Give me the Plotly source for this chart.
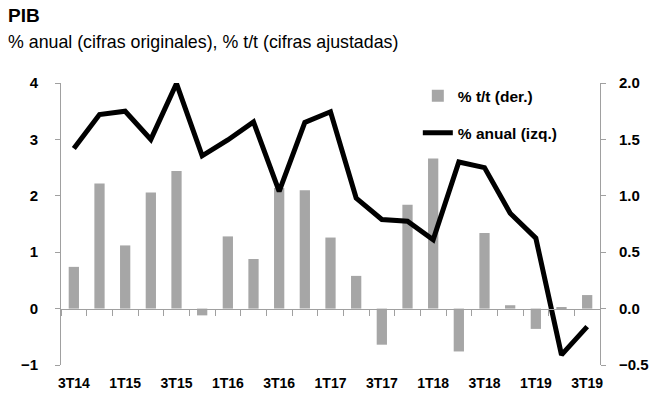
import plotly.graph_objects as go

# trimestres 3T14 .. 3T19
trimestres = ['3T14', '4T14', '1T15', '2T15', '3T15', '4T15', '1T16', '2T16',
              '3T16', '4T16', '1T17', '2T17', '3T17', '4T17', '1T18', '2T18',
              '3T18', '4T18', '1T19', '2T19', '3T19']
etiquetas = trimestres[::2]

# % t/t (cifras ajustadas), eje derecho
tt = [0.37, 1.11, 0.56, 1.03, 1.22, -0.06, 0.64, 0.44, 1.07, 1.05, 0.63,
      0.29, -0.32, 0.92, 1.33, -0.38, 0.67, 0.03, -0.18, 0.01, 0.12]
# % anual (cifras originales), eje izquierdo
anual = [2.84, 3.44, 3.50, 3.00, 3.99, 2.71, 2.99, 3.31, 2.08, 3.30, 3.49,
         1.96, 1.58, 1.55, 1.22, 2.60, 2.50, 1.69, 1.25, -0.82, -0.32]

gris = '#a6a6a6'
eje = '#a0a0a0'
fuente = 'Liberation Sans, Arial, sans-serif'

fig = go.Figure()

# barras: x (etiquetas abajo) / y (eje derecho)
fig.add_trace(go.Bar(
    x=trimestres, y=tt, name='% t/t (der.)',
    marker=dict(color=gris, line=dict(width=0)),
    width=0.4, xaxis='x', yaxis='y', legendgroup='a'
))

# linea: x2 (eje en cero) / y2 (eje izquierdo), se dibuja encima
fig.add_trace(go.Scatter(
    x=trimestres, y=anual, name='% anual (izq.)', mode='lines',
    line=dict(color='black', width=5),
    xaxis='x2', yaxis='y2', legendgroup='b'
))

fig.update_layout(
    width=650, height=404,
    margin=dict(l=61, r=50, t=83, b=39, autoexpand=False),
    plot_bgcolor='white', paper_bgcolor='white',
    font=dict(family=fuente, size=14, color='black'),
    showlegend=True,
    legend=dict(x=0.662, y=1.014, xanchor='left', yanchor='top',
                bgcolor='rgba(0,0,0,0)', tracegroupgap=14,
                font=dict(family=fuente, size=15.5, weight='bold')),
    xaxis=dict(
        type='category', range=[-0.5, 20.5], anchor='y', side='bottom',
        showline=False, ticks='', ticklabelstandoff=8,
        tickvals=etiquetas, ticktext=etiquetas, tickangle=0,
        tickfont=dict(family=fuente, size=14, weight='bold'),
        showgrid=False, zeroline=False, automargin=False
    ),
    xaxis2=dict(
        type='category', range=[-0.5, 20.5], overlaying='x',
        anchor='free', position=0.2,
        showline=True, linecolor=eje, linewidth=1,
        ticks='outside', tickson='boundaries', ticklen=6, tickcolor=eje,
        showticklabels=False, showgrid=False, zeroline=False, automargin=False
    ),
    yaxis=dict(
        range=[-0.5, 2.0], dtick=0.5, tickformat='.1f',
        side='right', showline=True, linecolor=eje, linewidth=1,
        ticks='outside', ticklen=5, tickcolor=eje, ticklabelstandoff=10,
        tickfont=dict(family=fuente, size=15, weight='bold'),
        showgrid=False, zeroline=False, automargin=False
    ),
    yaxis2=dict(
        range=[-1, 4], dtick=1, overlaying='y', side='left', anchor='x2',
        showline=True, linecolor=eje, linewidth=1,
        ticks='outside', ticklen=5, tickcolor=eje, ticklabelstandoff=14,
        tickfont=dict(family=fuente, size=15, weight='bold'),
        showgrid=False, zeroline=False, automargin=False
    ),
    annotations=[
        dict(text='<b>PIB</b>', xref='paper', yref='paper', x=-0.102, y=1.238,
             xanchor='left', yanchor='middle', showarrow=False,
             font=dict(family=fuente, size=19)),
        dict(text='% anual (cifras originales), % t/t (cifras ajustadas)',
             xref='paper', yref='paper', x=-0.102, y=1.145,
             xanchor='left', yanchor='middle', showarrow=False,
             font=dict(family=fuente, size=17.8))
    ]
)

# quitar el margen de 8px del body para que la figura ocupe toda la ventana
fig.write_html('out.html', config={'displayModeBar': False},
               post_script="document.body.style.margin='0';")
